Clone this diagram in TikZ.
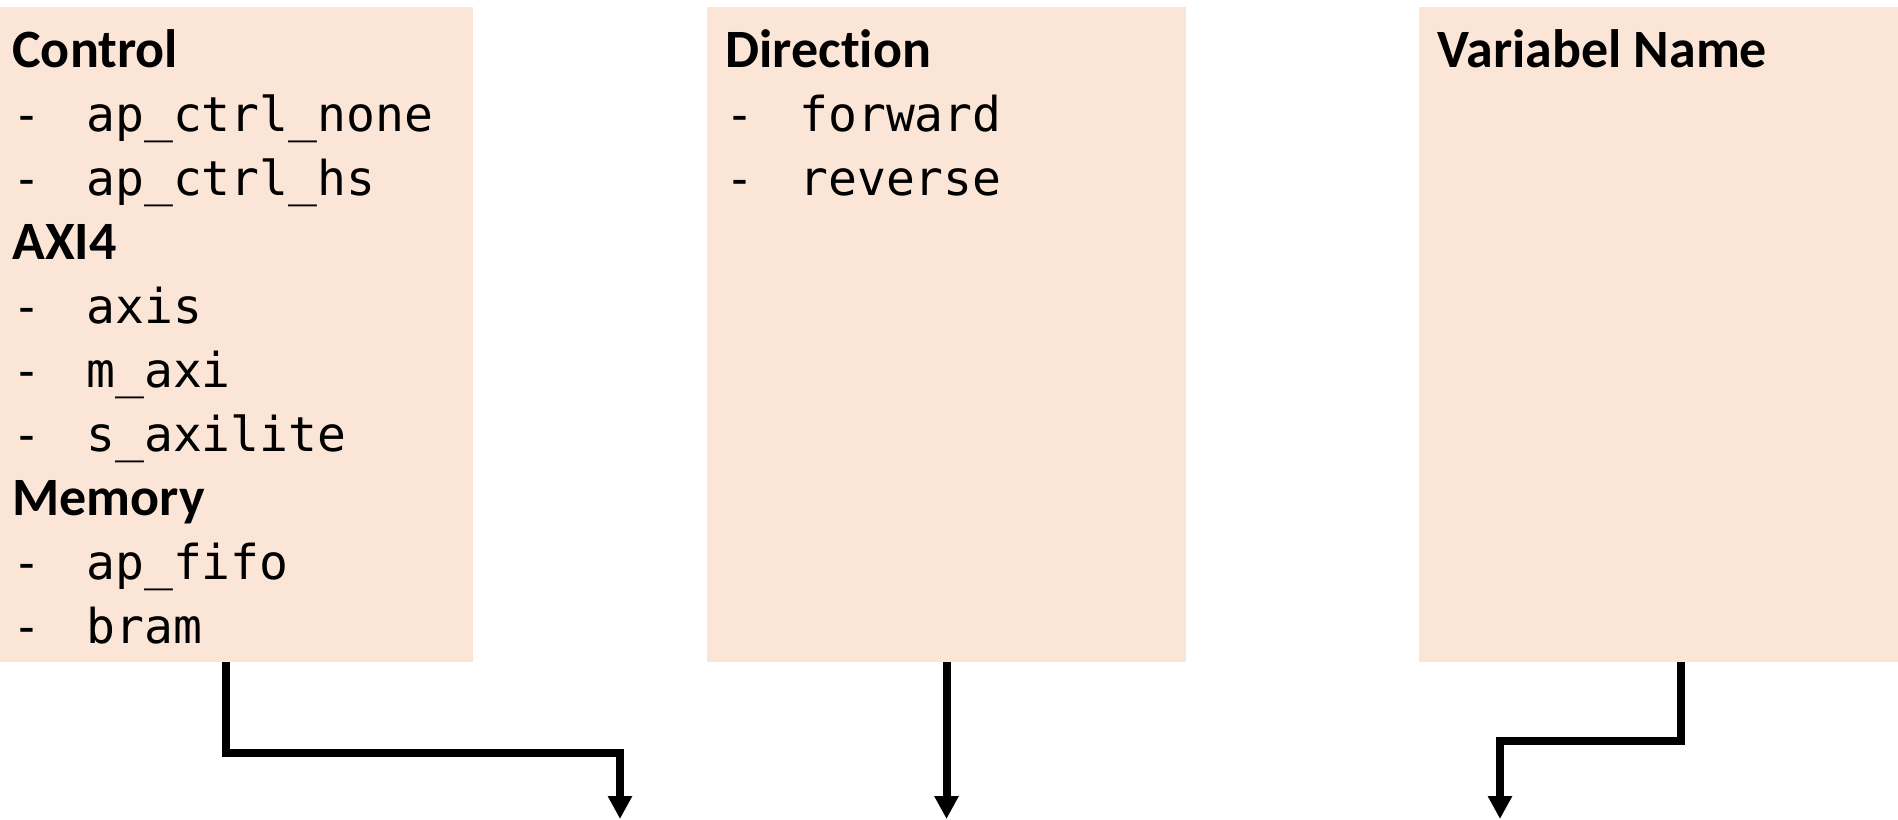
\documentclass[tikz,border=0pt]{standalone}
\usepackage{fontspec}
\newfontfamily\headfont{Carlito}[Ligatures=NoCommon]
\newfontfamily\monofont{DejaVu Sans Mono}
\usetikzlibrary{arrows.meta}
\definecolor{panelfill}{HTML}{FBE5D6}
\newcommand{\dashitem}[1]{\makebox[37pt][l]{-}#1}

\begin{document}
\begin{tikzpicture}[x=0.5pt,y=-0.5pt,
  panel/.style={fill=panelfill, anchor=north west, inner sep=0pt, outer sep=0pt,
    minimum width=239.5pt, minimum height=327.5pt},
  hd/.style={anchor=base west, inner sep=0pt, font=\headfont\bfseries\fontsize{27pt}{32pt}\selectfont},
  itm/.style={anchor=base west, inner sep=0pt, font=\monofont\fontsize{24pt}{32pt}\selectfont},
  nextline/.style={yshift=-32pt},
  link/.style={line width=4pt, -{Triangle[width=11.5pt,length=11.5pt]}}]

  \useasboundingbox (0,0) rectangle (1898,819);

  \node[panel] (ctrl) at (-6,7) {};
  \node[panel] (dir) at (707,7) {};
  \node[panel] (var) at (1419,7) {};

  %==================================================

  \node[hd] (ctrl_hd) at ([xshift=9pt,yshift=-30pt]ctrl.north west) {Control};
  \node[itm, nextline] (ctrl_none) at (ctrl_hd.base west) {\dashitem{ap\_ctrl\_none}};
  \node[itm, nextline] (ctrl_hs) at (ctrl_none.base west) {\dashitem{ap\_ctrl\_hs}};
  \node[hd, nextline] (axi_hd) at (ctrl_hs.base west) {AXI4};
  \node[itm, nextline] (axi_axis) at (axi_hd.base west) {\dashitem{axis}};
  \node[itm, nextline] (axi_m) at (axi_axis.base west) {\dashitem{m\_axi}};
  \node[itm, nextline] (axi_s) at (axi_m.base west) {\dashitem{s\_axilite}};
  \node[hd, nextline] (mem_hd) at (axi_s.base west) {Memory};
  \node[itm, nextline] (mem_fifo) at (mem_hd.base west) {\dashitem{ap\_fifo}};
  \node[itm, nextline] (mem_bram) at (mem_fifo.base west) {\dashitem{bram}};

  \node[hd] (dir_hd) at ([xshift=9pt,yshift=-30pt]dir.north west) {Direction};
  \node[itm, nextline] (dir_fwd) at (dir_hd.base west) {\dashitem{forward}};
  \node[itm, nextline] (dir_rev) at (dir_fwd.base west) {\dashitem{reverse}};

  \node[hd] (var_hd) at ([xshift=9pt,yshift=-30pt]var.north west) {Variabel Name};

  %==================================================

  \coordinate (ctrl_end) at (620,819);
  \coordinate (dir_end) at (946.5,819);
  \coordinate (var_end) at (1500,819);

  \draw[link] ([xshift=-3.75pt]ctrl.south) -- ++(0,91) -| (ctrl_end);
  \draw[link] (dir.south) -- (dir_end);
  \draw[link] ([xshift=11.25pt]var.south) -- ++(0,79) -| (var_end);

\end{tikzpicture}
\end{document}
